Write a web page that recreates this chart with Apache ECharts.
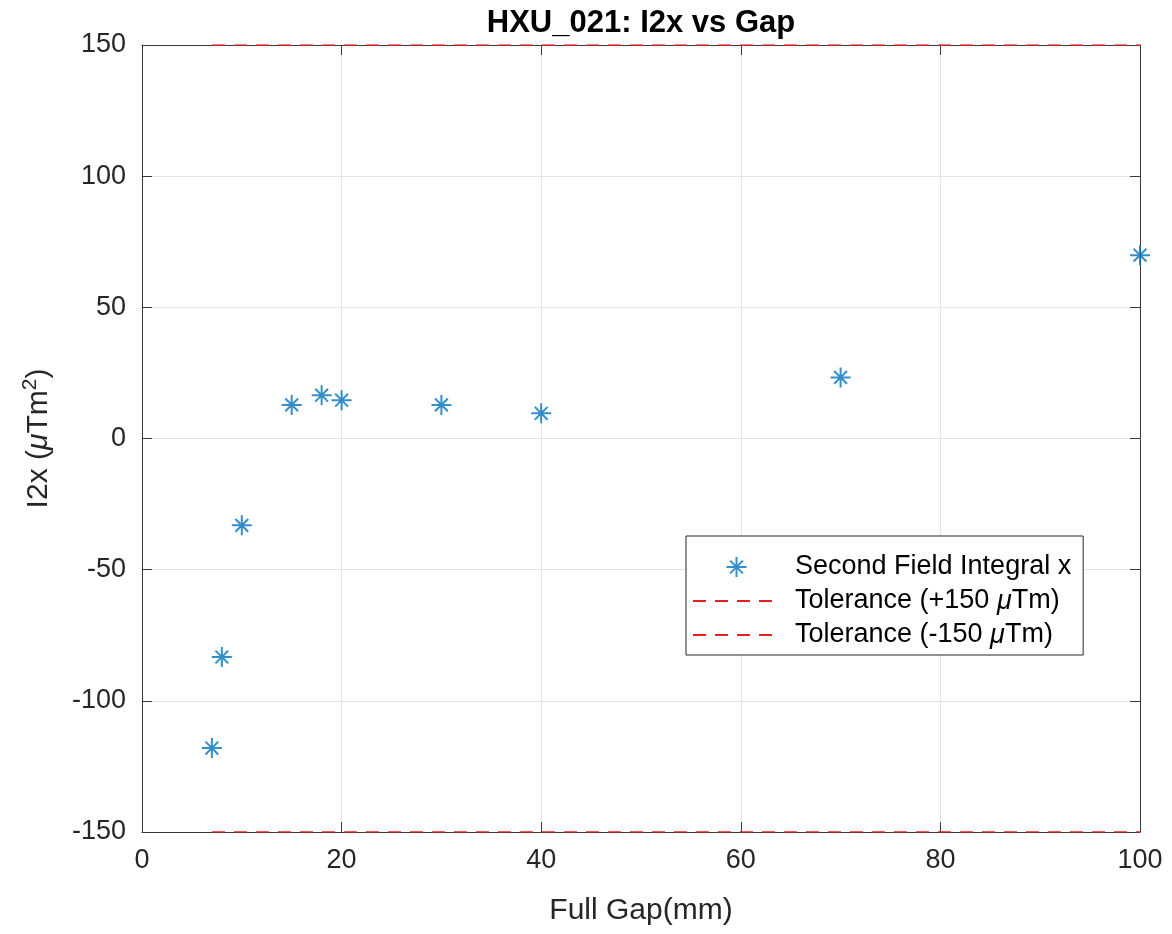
<!DOCTYPE html>
<html>
<head>
<meta charset="utf-8">
<script src="https://cdn.jsdelivr.net/npm/echarts@6/dist/echarts.min.js"></script>
<style>
html,body{margin:0;padding:0;background:#fff;}
#chart{width:1172px;height:934px;}
</style>
</head>
<body>
<div id="chart"></div>
<script>
// ---- data ----
var gaps = [7, 8, 10, 15, 18, 20, 30, 40, 70, 100];
var i2x = [-118, -83.3, -33.1, 12.8, 16.5, 14.6, 12.8, 9.6, 23.3, 69.9];
var tolRange = [7, 100];
var tolPlus = 150;
var tolMinus = -150;
var xTicks = [0, 20, 40, 60, 80, 100];
var yTicks = [-150, -100, -50, 0, 50, 100, 150];
var seriesNames = ['Second Field Integral x', 'Tolerance (+150 \u03bcTm)', 'Tolerance (-150 \u03bcTm)'];

var FONT = '"Liberation Sans", Arial, Helvetica, sans-serif';
var TXT = '#262626';
var AX = '#3a3a3a';
var RED = '#e62020';
var BLUE = '#0072BD';

var star = 'path://M45 0L55 0L55 100L45 100Z M0 45L100 45L100 55L0 55Z ' +
  'M14.5 21.5L21.5 14.5L85.5 78.5L78.5 85.5Z M78.5 14.5L85.5 21.5L21.5 85.5L14.5 78.5Z';

var scatterData = gaps.map(function (g, i) { return [g, i2x[i]]; });
var plusData = tolRange.map(function (g) { return [g, tolPlus]; });
var minusData = tolRange.map(function (g) { return [g, tolMinus]; });

var chart = echarts.init(document.getElementById('chart'), null, {renderer: 'canvas'});

function baseX(show, pos) {
  return {
    type: 'value', min: xTicks[0], max: xTicks[xTicks.length - 1], interval: 20,
    position: pos,
    axisLine: {show: true, onZero: false, lineStyle: {color: AX, width: 1}},
    axisTick: {show: true, inside: true, length: 10, lineStyle: {color: AX}},
    axisLabel: {show: show, color: TXT, fontFamily: FONT, fontSize: 27, margin: 15},
    splitLine: {show: show, lineStyle: {color: '#e3e3e3', width: 1}}
  };
}
function baseY(show, pos) {
  return {
    type: 'value', min: yTicks[0], max: yTicks[yTicks.length - 1], interval: 50,
    position: pos,
    axisLine: {show: true, onZero: false, lineStyle: {color: AX, width: 1}},
    axisTick: {show: true, inside: true, length: 10, lineStyle: {color: AX}},
    axisLabel: {show: show, color: TXT, fontFamily: FONT, fontSize: 27, margin: 16},
    splitLine: {show: show, lineStyle: {color: '#e3e3e3', width: 1}}
  };
}

var x0 = baseX(true, 'bottom');
x0.name = 'Full Gap(mm)';
x0.nameLocation = 'middle';
x0.nameGap = 64;
x0.nameTextStyle = {color: TXT, fontFamily: FONT, fontSize: 30};
var x1 = baseX(false, 'top');

var y0 = baseY(true, 'left');
y0.name = '{n|I2x (}{mu|\u03bc}{n|Tm}{sup|2}{n|)}';
y0.nameLocation = 'middle';
y0.nameGap = 88;
y0.nameTextStyle = {
  color: TXT, fontFamily: FONT, fontSize: 30,
  rich: {
    n: {color: TXT, fontFamily: FONT, fontSize: 30, lineHeight: 34, verticalAlign: 'bottom'},
    mu: {color: TXT, fontFamily: FONT, fontSize: 30, fontStyle: 'italic', lineHeight: 34, verticalAlign: 'bottom'},
    sup: {color: TXT, fontFamily: FONT, fontSize: 21, lineHeight: 34, verticalAlign: 'top'}
  }
};
var y1 = baseY(false, 'right');

var noSym = {color: 'rgba(0,0,0,0)', borderWidth: 0, opacity: 0};

var option = {
  backgroundColor: '#ffffff',
  animation: false,
  title: {
    text: 'HXU_021: I2x vs Gap',
    left: 641, textAlign: 'center', top: 8, padding: 0,
    textStyle: {color: '#000', fontFamily: FONT, fontSize: 31, fontWeight: 'bold'}
  },
  grid: {left: 142, right: 32, top: 45, bottom: 102, containLabel: false},
  xAxis: [x0, x1],
  yAxis: [y0, y1],
  legend: {
    orient: 'vertical',
    left: 686, top: 536,
    padding: [17, 12, 6, 6],
    backgroundColor: '#ffffff',
    borderColor: '#262626', borderWidth: 1,
    itemWidth: 87, itemHeight: 20, itemGap: 6,
    textStyle: {color: '#000', fontFamily: FONT, fontSize: 27, padding: [0, 0, 0, 10], lineHeight: 28,
      rich: {mu: {fontStyle: 'italic', fontFamily: FONT, fontSize: 27}}},
    formatter: function (name) { return name.replace('\u03bc', '{mu|\u03bc}'); },
    data: [
      {name: seriesNames[0]},
      {name: seriesNames[1], itemStyle: noSym},
      {name: seriesNames[2], itemStyle: noSym}
    ],
    selectedMode: false
  },
  series: [
    {
      name: seriesNames[0], type: 'scatter', xAxisIndex: 0, yAxisIndex: 0,
      data: scatterData, symbol: star, symbolSize: 20,
      itemStyle: {color: BLUE}, clip: false, z: 5
    },
    {
      name: seriesNames[1], type: 'line', xAxisIndex: 0, yAxisIndex: 0,
      data: plusData, symbol: 'none', showSymbol: false,
      lineStyle: {color: RED, width: 1.6, type: [13, 9]}, itemStyle: {color: RED}, z: 4
    },
    {
      name: seriesNames[2], type: 'line', xAxisIndex: 0, yAxisIndex: 0,
      data: minusData, symbol: 'none', showSymbol: false,
      lineStyle: {color: RED, width: 1.6, type: [13, 9]}, itemStyle: {color: RED}, z: 4
    }
  ]
};
chart.setOption(option);
</script>
</body>
</html>
